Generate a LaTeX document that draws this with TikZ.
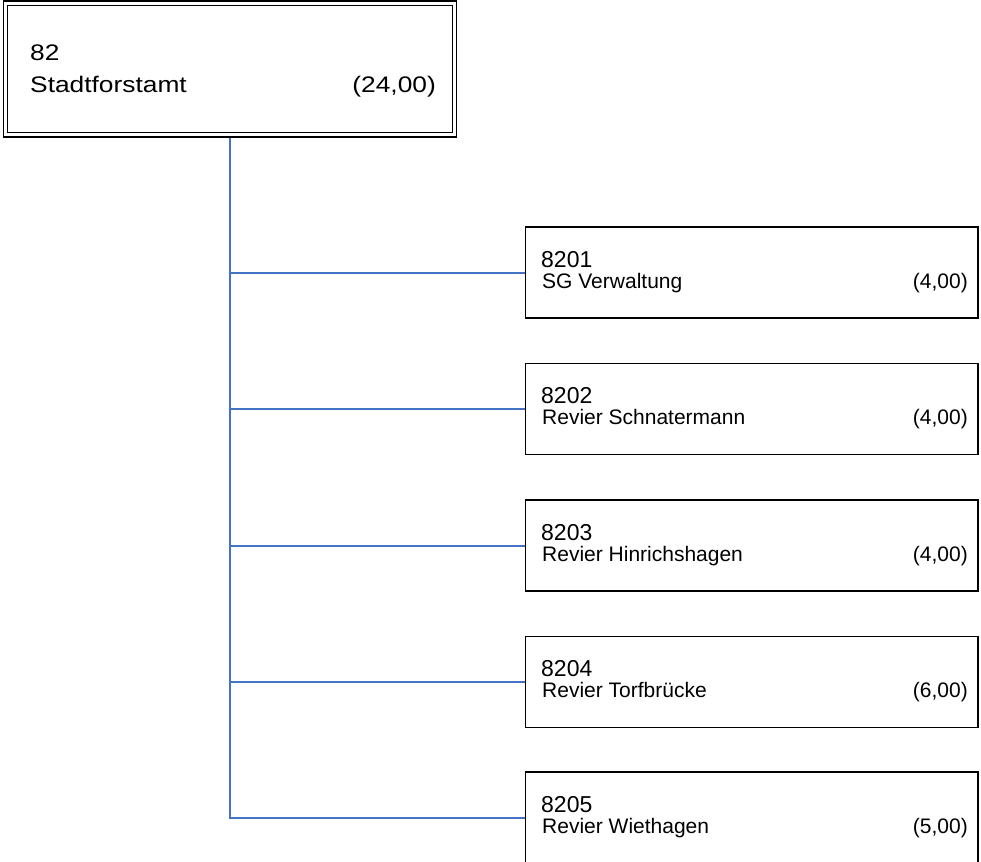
\documentclass[tikz,border=0pt]{standalone}
\usepackage{fontspec}
\setmainfont{Liberation Sans}
\newfontfamily\widefont[FakeStretch=1.17]{Liberation Sans}
\definecolor{connblue}{HTML}{4472C4}
\begin{document}
\begin{tikzpicture}[x=1pt,y=-1pt,
 rootbox/.style={draw, double, double distance=3pt, line width=1.3pt, minimum width=449pt, minimum height=131.5pt, outer sep=2.8pt, inner sep=0pt},
 childbox/.style={draw, line width=1.3pt, minimum width=452.5pt, minimum height=91pt, inner sep=0pt, outer sep=0.65pt},
 conn/.style={draw=connblue, line width=2pt},
 roottxt/.style={inner sep=0pt, font=\widefont\fontsize{22.5}{22.5}\selectfont},
 codetxt/.style={anchor=base west, inner sep=0pt, font=\fontsize{23}{23}\selectfont},
 nametxt/.style={anchor=base west, inner sep=0pt, font=\fontsize{21}{21}\selectfont},
 valtxt/.style={anchor=base east, inner sep=0pt, font=\fontsize{21}{21}\selectfont},
]
\useasboundingbox (0,0) rectangle (981,861);

\node[rootbox] (root) at (230,69) {};
\node[roottxt, anchor=base west] (rootcode) at (30,60.5) {82};
\node[roottxt, anchor=base west] (rootname) at (30,93) {Stadtforstamt};
\node[roottxt, anchor=base east] (rootval) at (436,93) {(24,00)};

\node[childbox] (c1) at (751.75,272.5) {};
\node[codetxt] (c1code) at (541,267) {8201};
\node[nametxt] (c1name) at (542,288) {SG Verwaltung};
\node[valtxt] (c1val) at (968,288) {(4,00)};

\node[childbox] (c2) at (751.75,409) {};
\node[codetxt] (c2code) at (541,403.5) {8202};
\node[nametxt] (c2name) at (542,424.5) {Revier Schnatermann};
\node[valtxt] (c2val) at (968,424.5) {(4,00)};

\node[childbox] (c3) at (751.75,545.5) {};
\node[codetxt] (c3code) at (541,540) {8203};
\node[nametxt] (c3name) at (542,561) {Revier Hinrichshagen};
\node[valtxt] (c3val) at (968,561) {(4,00)};

\node[childbox] (c4) at (751.75,682) {};
\node[codetxt] (c4code) at (541,676.5) {8204};
\node[nametxt] (c4name) at (542,697.5) {Revier Torfbrücke};
\node[valtxt] (c4val) at (968,697.5) {(6,00)};

\node[childbox] (c5) at (751.75,817.5) {};
\node[codetxt] (c5code) at (541,812) {8205};
\node[nametxt] (c5name) at (542,833) {Revier Wiethagen};
\node[valtxt] (c5val) at (968,833) {(5,00)};

\draw[conn] (root.south) -- (root.south |- c5.west) -- (c5.west);
\draw[conn] (root.south |- c1.west) -- (c1.west);
\draw[conn] (root.south |- c2.west) -- (c2.west);
\draw[conn] (root.south |- c3.west) -- (c3.west);
\draw[conn] (root.south |- c4.west) -- (c4.west);
\end{tikzpicture}
\end{document}
